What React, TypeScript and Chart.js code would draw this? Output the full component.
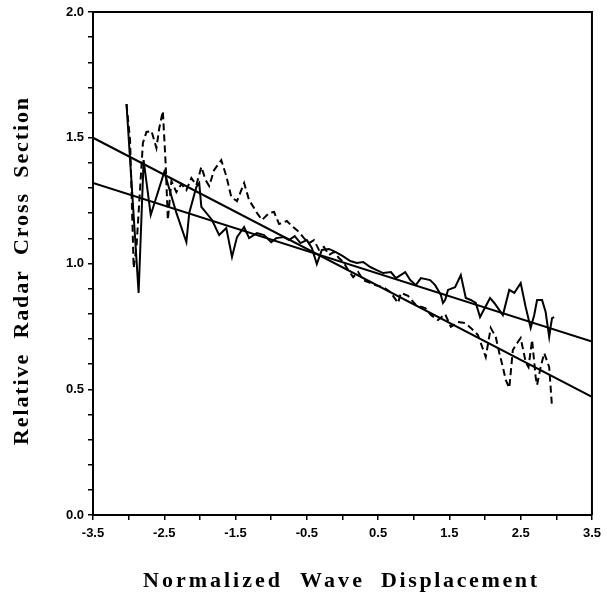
import React, { useEffect, useRef } from "react";
import { Chart, registerables } from "chart.js";

Chart.register(...registerables);

const xTickLabelsStep = 0.5;

const solidX = [-3.03, -2.86, -2.79, -2.69, -2.5, -2.33, -2.19, -2.15, -2.05, -2.01, -1.98, -1.83, -1.73, -1.63, -1.55, -1.48, -1.38, -1.31, -1.2, -1.1, -1.0, -0.93, -0.82, -0.75, -0.67, -0.59, -0.5, -0.43, -0.36, -0.29, -0.19, -0.1, 0.0, 0.11, 0.2, 0.29, 0.39, 0.48, 0.57, 0.68, 0.75, 0.88, 0.95, 1.03, 1.1, 1.23, 1.3, 1.38, 1.41, 1.44, 1.48, 1.58, 1.66, 1.73, 1.8, 1.87, 1.93, 2.07, 2.13, 2.25, 2.34, 2.41, 2.5, 2.57, 2.64, 2.69, 2.73, 2.8, 2.85, 2.9, 2.92, 2.94, 2.97];
const solidY = [1.634, 0.883, 1.411, 1.193, 1.364, 1.201, 1.085, 1.201, 1.304, 1.32, 1.225, 1.173, 1.113, 1.141, 1.026, 1.105, 1.145, 1.101, 1.121, 1.113, 1.085, 1.101, 1.105, 1.093, 1.109, 1.081, 1.093, 1.062, 0.998, 1.054, 1.058, 1.046, 1.03, 1.01, 1.002, 1.006, 0.986, 0.974, 0.962, 0.966, 0.942, 0.966, 0.934, 0.914, 0.942, 0.934, 0.914, 0.875, 0.843, 0.855, 0.895, 0.906, 0.954, 0.863, 0.855, 0.843, 0.787, 0.863, 0.843, 0.795, 0.895, 0.883, 0.922, 0.827, 0.744, 0.795, 0.855, 0.855, 0.807, 0.708, 0.748, 0.783, 0.787];

const dashedX = [-3.03, -2.98, -2.96, -2.94, -2.93, -2.89, -2.8, -2.75, -2.68, -2.61, -2.57, -2.52, -2.48, -2.45, -2.4, -2.33, -2.26, -2.19, -2.12, -2.05, -1.98, -1.92, -1.87, -1.8, -1.7, -1.63, -1.56, -1.48, -1.38, -1.31, -1.24, -1.2, -1.13, -1.03, -0.96, -0.89, -0.78, -0.71, -0.61, -0.54, -0.47, -0.4, -0.33, -0.26, -0.19, -0.12, -0.05, 0.01, 0.08, 0.15, 0.22, 0.29, 0.36, 0.46, 0.57, 0.67, 0.78, 0.82, 0.92, 1.03, 1.16, 1.24, 1.34, 1.44, 1.52, 1.62, 1.72, 1.8, 1.9, 1.94, 2.01, 2.08, 2.15, 2.2, 2.25, 2.29, 2.34, 2.39, 2.46, 2.5, 2.57, 2.61, 2.66, 2.71, 2.73, 2.78, 2.83, 2.9, 2.94];
const dashedY = [1.634, 1.491, 1.292, 1.093, 0.982, 1.066, 1.479, 1.523, 1.527, 1.459, 1.539, 1.606, 1.392, 1.173, 1.328, 1.284, 1.316, 1.292, 1.34, 1.312, 1.384, 1.332, 1.308, 1.372, 1.411, 1.348, 1.264, 1.248, 1.32, 1.252, 1.221, 1.201, 1.173, 1.201, 1.205, 1.157, 1.169, 1.149, 1.125, 1.101, 1.081, 1.093, 1.054, 1.066, 1.034, 1.046, 1.022, 1.006, 0.974, 0.946, 0.966, 0.934, 0.926, 0.914, 0.906, 0.887, 0.843, 0.883, 0.871, 0.835, 0.823, 0.795, 0.775, 0.799, 0.748, 0.767, 0.763, 0.744, 0.716, 0.684, 0.628, 0.744, 0.708, 0.644, 0.588, 0.537, 0.505, 0.656, 0.688, 0.704, 0.608, 0.588, 0.696, 0.549, 0.517, 0.588, 0.644, 0.588, 0.429];

const fitX = [-3.5, 3.5];
const fitAY = [1.5, 0.47];
const fitBY = [1.32, 0.69];

const xTitleWords = ["Normalized", "Wave", "Displacement"];
const yTitle = "Relative Radar Cross Section";

const pts = (xs: number[], ys: number[]) => xs.map((x, i) => ({ x, y: ys[i] }));

function drawFitted(ctx: any, word: string, start: number, width: number, y: number) {
  ctx.letterSpacing = "0px";
  const w = ctx.measureText(word).width;
  const sp = (width - w) / Math.max(1, word.length - 1);
  ctx.letterSpacing = sp + "px";
  ctx.fillText(word, start, y);
  ctx.letterSpacing = "0px";
}

const decorPlugin = {
  id: "decor",
  afterDraw(chart: any) {
    const { ctx, chartArea } = chart;
    ctx.save();
    ctx.strokeStyle = "#000";
    ctx.lineWidth = 2;
    ctx.beginPath();
    ctx.moveTo(chartArea.left, chartArea.top);
    ctx.lineTo(chartArea.right, chartArea.top);
    ctx.lineTo(chartArea.right, chartArea.bottom);
    ctx.stroke();

    ctx.fillStyle = "#000";
    ctx.textBaseline = "alphabetic";
    ctx.textAlign = "left";
    ctx.font = 'bold 22px "Liberation Serif"';
    const xs = [[143, 137], [300, 62], [381, 156]];
    xTitleWords.forEach((w, i) => drawFitted(ctx, w, xs[i][0], xs[i][1], 587));

    ctx.font = 'bold 22px "Liberation Serif"';
    ctx.wordSpacing = "7px";
    ctx.translate(28, 0);
    ctx.rotate(-Math.PI / 2);
    drawFitted(ctx, yTitle, -445, 347, 0);
    ctx.wordSpacing = "0px";
    ctx.restore();
  },
};

export default function App() {
  const ref = useRef<HTMLCanvasElement | null>(null);
  useEffect(() => {
    if (!ref.current) return;
    const chart = new Chart(ref.current, {
      type: "scatter",
      data: {
        datasets: [
          { data: pts(fitX, fitAY), showLine: true, borderColor: "#000", borderWidth: 2, pointRadius: 0 },
          { data: pts(fitX, fitBY), showLine: true, borderColor: "#000", borderWidth: 2, pointRadius: 0 },
          { data: pts(solidX, solidY), showLine: true, borderColor: "#000", borderWidth: 2, pointRadius: 0 },
          { data: pts(dashedX, dashedY), showLine: true, borderColor: "#000", borderWidth: 2, borderDash: [7, 4], pointRadius: 0 },
        ],
      },
      options: {
        animation: false,
        responsive: true,
        maintainAspectRatio: false,
        layout: { padding: { top: 12, right: 12, left: 0, bottom: 0 } },
        plugins: { legend: { display: false }, tooltip: { enabled: false } },
        scales: {
          x: {
            type: "linear",
            min: -3.5,
            max: 3.5,
            afterFit: (s: any) => { s.height = 80; },
            border: { display: true, color: "#000", width: 2 },
            grid: { drawOnChartArea: false, drawTicks: true, tickLength: 5, color: "#000", lineWidth: 1.5 },
            ticks: {
              stepSize: xTickLabelsStep,
              autoSkip: false,
              maxRotation: 0,
              padding: 6,
              color: "#000",
              font: { family: '"Liberation Sans", Arial', size: 13, weight: "bold" },
              callback: (v: any) => (Math.abs(Math.round(Number(v) * 2)) % 2 === 1 ? Number(v).toFixed(1) : ""),
            },
          },
          y: {
            type: "linear",
            min: 0,
            max: 2,
            afterFit: (s: any) => { s.width = 93; },
            border: { display: true, color: "#000", width: 2 },
            grid: { drawOnChartArea: false, drawTicks: true, tickLength: 5, color: "#000", lineWidth: 1.5 },
            ticks: {
              stepSize: 0.1,
              autoSkip: false,
              padding: 4,
              color: "#000",
              font: { family: '"Liberation Sans", Arial', size: 13, weight: "bold" },
              callback: (v: any) => (Math.round(Number(v) * 10) % 5 === 0 ? Number(v).toFixed(1) : ""),
            },
          },
        },
      },
      plugins: [decorPlugin],
    } as any);
    return () => chart.destroy();
  }, []);
  return (
    <div style={{ position: "absolute", left: 0, top: 0, width: 607, height: 595, background: "#fff" }}>
      <canvas ref={ref} />
    </div>
  );
}
